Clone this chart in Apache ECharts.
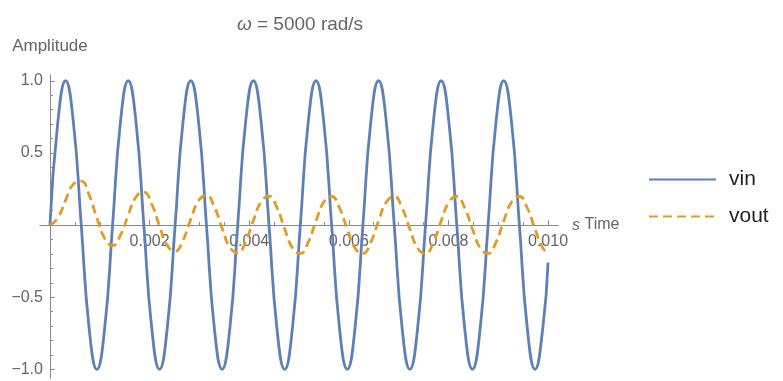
<!DOCTYPE html>
<html>
<head>
<meta charset="utf-8">
<script src="https://cdn.jsdelivr.net/npm/echarts@6/dist/echarts.min.js"></script>
<style>
  html, body { margin: 0; padding: 0; background: #fff; }
  #chart { width: 783px; height: 381px; }
</style>
</head>
<body>
<div id="chart"></div>
<script>
// time samples (s)
const times = [
  0, 0.000157, 0.000314, 0.000471, 0.000628, 0.000785, 0.000942, 0.0011,
  0.001257, 0.001414, 0.001571, 0.001728, 0.001885, 0.002042, 0.002199, 0.002356,
  0.002513, 0.00267, 0.002827, 0.002985, 0.003142, 0.003299, 0.003456, 0.003613,
  0.00377, 0.003927, 0.004084, 0.004241, 0.004398, 0.004555, 0.004712, 0.004869,
  0.005027, 0.005184, 0.005341, 0.005498, 0.005655, 0.005812, 0.005969, 0.006126,
  0.006283, 0.00644, 0.006597, 0.006754, 0.006912, 0.007069, 0.007226, 0.007383,
  0.00754, 0.007697, 0.007854, 0.008011, 0.008168, 0.008325, 0.008482, 0.008639,
  0.008796, 0.008954, 0.009111, 0.009268, 0.009425, 0.009582, 0.009739, 0.009896,
  0.01
]

const vin = [
  0, 0.71, 1, 0.71, 0, -0.71, -1, -0.71,
  0, 0.71, 1, 0.71, 0, -0.71, -1, -0.71,
  0, 0.71, 1, 0.71, 0, -0.71, -1, -0.71,
  0, 0.71, 1, 0.71, 0, -0.71, -1, -0.71,
  0, 0.71, 1, 0.71, 0, -0.71, -1, -0.71,
  0, 0.71, 1, 0.71, 0, -0.71, -1, -0.71,
  0, 0.71, 1, 0.71, 0, -0.71, -1, -0.71,
  0, 0.71, 1, 0.71, 0, -0.71, -1, -0.71,
  -0.26
]

const vout = [
  0, 0.049, 0.173, 0.284, 0.304, 0.210, 0.049, -0.094,
  -0.142, -0.072, 0.069, 0.195, 0.228, 0.146, -0.006, -0.141,
  -0.182, -0.106, 0.040, 0.170, 0.207, 0.127, -0.022, -0.155,
  -0.193, -0.116, 0.031, 0.163, 0.200, 0.122, -0.026, -0.159,
  -0.198, -0.120, 0.028, 0.160, 0.198, 0.120, -0.028, -0.160,
  -0.198, -0.120, 0.028, 0.160, 0.198, 0.120, -0.028, -0.160,
  -0.198, -0.120, 0.028, 0.160, 0.198, 0.120, -0.028, -0.160,
  -0.198, -0.120, 0.028, 0.160, 0.198, 0.120, -0.028, -0.160,
  -0.19
]

const xMajorTicks = [0.002, 0.004, 0.006, 0.008, 0.010]
const xMinorTicks = [0.0005, 0.001, 0.0015, 0.0025, 0.003, 0.0035, 0.0045, 0.005, 0.0055,
  0.0065, 0.007, 0.0075, 0.0085, 0.009, 0.0095]
const yMajorTicks = [-1, -0.5, 0.5, 1]
const yMinorTicks = [-0.9, -0.8, -0.7, -0.6, -0.4, -0.3, -0.2, -0.1,
  0.1, 0.2, 0.3, 0.4, 0.6, 0.7, 0.8, 0.9]

const FONT = '"Liberation Sans", Arial, sans-serif'
const AXIS_COLOR = '#8a8a8a'
const LABEL_COLOR = '#666'
const BLUE = '#5E81B5'
const ORANGE = '#E19C24'

// plot box and padded ranges (Mathematica-style 2% padding)
const GRID = { left: 40, right: 225, top: 75, bottom: 3 }
const X_MIN = -0.0002, X_MAX = 0.0102
const Y_MIN = -1.06, Y_MAX = 1.04
const W = 783, H = 381

// move axes so they cross at the origin
const gridW = W - GRID.left - GRID.right
const gridH = H - GRID.top - GRID.bottom
const yAxisOffset = -((0 - X_MIN) / (X_MAX - X_MIN) * gridW)
const xAxisOffset = -((0 - Y_MIN) / (Y_MAX - Y_MIN) * gridH)

const pairs = ys => times.map((t, i) => [t, ys[i]])

const chart = echarts.init(document.getElementById('chart'))

const xBase = {
    type: 'value',
    min: X_MIN,
    max: X_MAX,
    position: 'bottom',
    offset: xAxisOffset,
    splitLine: { show: false },
    axisLine: { onZero: false, lineStyle: { color: AXIS_COLOR, width: 1 } }
}
const yBase = {
    type: 'value',
    min: Y_MIN,
    max: Y_MAX,
    position: 'left',
    offset: yAxisOffset,
    splitLine: { show: false },
    axisLine: { onZero: false, lineStyle: { color: AXIS_COLOR, width: 1 } }
}

chart.setOption({
    animation: false,
    backgroundColor: '#fff',
    textStyle: { fontFamily: FONT },
    title: {
        text: '{i|ω} = 5000 rad/s',
        left: 300,
        top: 15,
        padding: 0,
        textAlign: 'center',
        textStyle: {
            fontFamily: FONT,
            fontSize: 19,
            fontWeight: 'normal',
            color: LABEL_COLOR,
            rich: {
                i: { fontFamily: FONT, fontSize: 19, fontStyle: 'italic', color: LABEL_COLOR }
            }
        }
    },
    legend: {
        data: ['vin', 'vout'],
        orient: 'vertical',
        left: 648,
        top: 169,
        padding: 0,
        itemWidth: 67,
        itemHeight: 14,
        itemGap: 16,
        itemStyle: { opacity: 0 },
        textStyle: { fontFamily: FONT, fontSize: 21, color: '#222', padding: [0, 0, 0, 8] }
    },
    grid: Object.assign({ outerBoundsMode: 'none', containLabel: false }, GRID),
    xAxis: [
        Object.assign({}, xBase, {
            name: '{i|s} Time',
            nameLocation: 'end',
            nameGap: 14,
            nameTextStyle: {
                fontFamily: FONT, fontSize: 16, color: LABEL_COLOR,
                rich: { i: { fontFamily: FONT, fontSize: 16, fontStyle: 'italic', color: LABEL_COLOR } }
            },
            axisTick: { inside: true, length: 5, customValues: xMajorTicks, lineStyle: { color: AXIS_COLOR } },
            axisLabel: {
                customValues: xMajorTicks,
                margin: 9,
                fontSize: 16,
                color: LABEL_COLOR,
                fontFamily: FONT,
                formatter: v => v.toFixed(3)
            }
        }),
        Object.assign({}, xBase, {
            axisTick: { inside: true, length: 3, customValues: xMinorTicks, lineStyle: { color: AXIS_COLOR } },
            axisLabel: { show: false }
        })
    ],
    yAxis: [
        Object.assign({}, yBase, {
            name: 'Amplitude',
            nameLocation: 'end',
            nameGap: 20,
            nameTextStyle: { fontFamily: FONT, fontSize: 17, color: LABEL_COLOR },
            axisTick: { inside: true, length: 5, customValues: yMajorTicks, lineStyle: { color: AXIS_COLOR } },
            axisLabel: {
                customValues: yMajorTicks,
                margin: 7,
                fontSize: 16,
                color: LABEL_COLOR,
                fontFamily: FONT,
                formatter: v => (v < 0 ? '\u2212' : '') + Math.abs(v).toFixed(1)
            }
        }),
        Object.assign({}, yBase, {
            axisTick: { inside: true, length: 3, customValues: yMinorTicks, lineStyle: { color: AXIS_COLOR } },
            axisLabel: { show: false }
        })
    ],
    series: [
        {
            name: 'vin',
            type: 'line',
            data: pairs(vin),
            smooth: 0.5,
            symbol: 'none',
            showSymbol: false,
            color: BLUE,
            lineStyle: { color: BLUE, width: 2.8 }
        },
        {
            name: 'vout',
            type: 'line',
            data: pairs(vout),
            smooth: 0.5,
            symbol: 'none',
            showSymbol: false,
            color: ORANGE,
            lineStyle: { color: ORANGE, width: 2.8, type: [9, 5] }
        }
    ]
})
</script>
</body>
</html>
